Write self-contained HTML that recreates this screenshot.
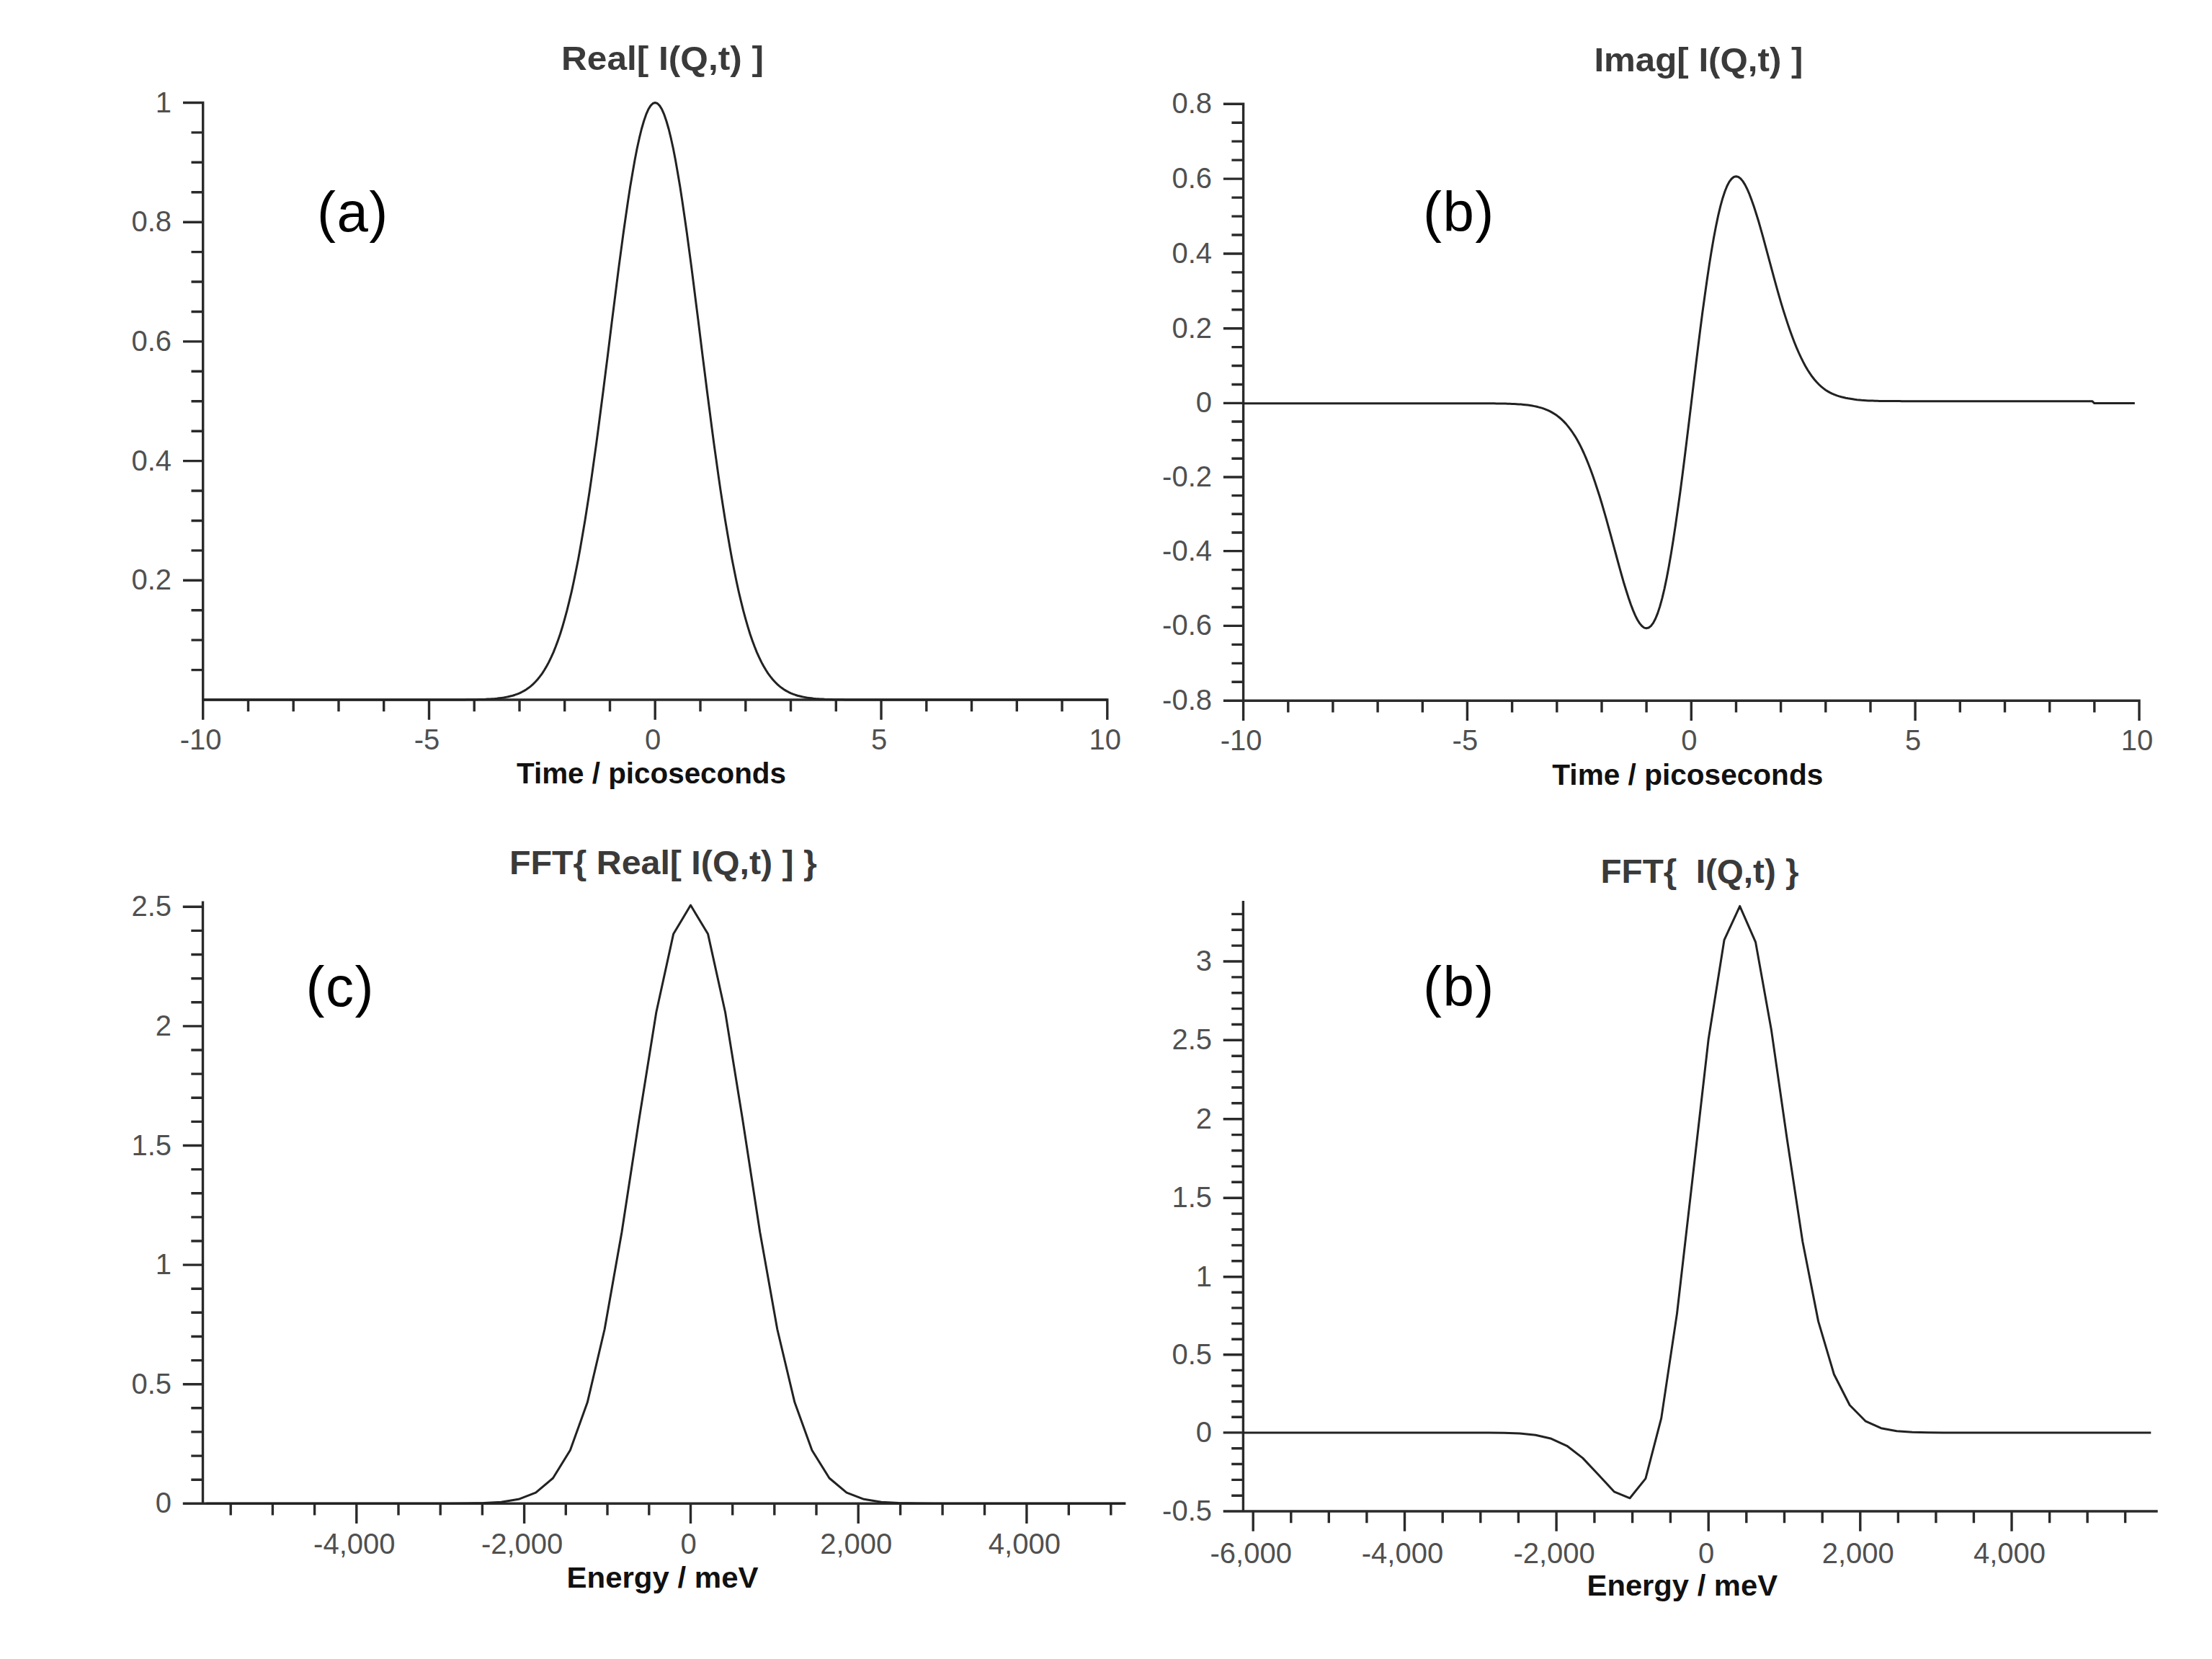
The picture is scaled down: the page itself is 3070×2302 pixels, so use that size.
<!DOCTYPE html>
<html><head><meta charset="utf-8"><title>I(Q,t) plots</title>
<style>
html,body{margin:0;padding:0;background:#fff;}
svg{display:block;}
text{font-family:"Liberation Sans",sans-serif;}
.tk{font-size:40px;fill:#505050;}
.ti{font-size:47px;font-weight:bold;fill:#3a3a3a;white-space:pre;}
.xl{font-size:40px;font-weight:bold;fill:#111;}
.tg{font-size:78px;fill:#000;letter-spacing:1.5px;}
</style></head><body>
<svg width="3070" height="2302" viewBox="0 0 3070 2302">
<rect width="3070" height="2302" fill="#fff"/>
<path d="M281.7 142.5V996M281.7 971H1536.8M255.7 805.3H281.7M255.7 639.6H281.7M255.7 473.9H281.7M255.7 308.2H281.7M255.7 142.5H281.7M267.2 929.6H281.7M267.2 888.1H281.7M267.2 846.7H281.7M267.2 763.9H281.7M267.2 722.5H281.7M267.2 681H281.7M267.2 598.2H281.7M267.2 556.8H281.7M267.2 515.3H281.7M267.2 432.5H281.7M267.2 391H281.7M267.2 349.6H281.7M267.2 266.8H281.7M267.2 225.3H281.7M267.2 183.9H281.7M281.7 971V997M595.5 971V997M909.2 971V997M1223 971V997M1536.8 971V997M344.5 971V985.5M407.2 971V985.5M470 971V985.5M532.7 971V985.5M658.2 971V985.5M721 971V985.5M783.7 971V985.5M846.5 971V985.5M972 971V985.5M1034.8 971V985.5M1097.5 971V985.5M1160.3 971V985.5M1285.8 971V985.5M1348.5 971V985.5M1411.3 971V985.5M1474 971V985.5" stroke="#2a2a2a" stroke-width="3.4" fill="none" stroke-linecap="square"/>
<text x="238" y="155.5" text-anchor="end" class="tk">1</text>
<text x="238" y="321.2" text-anchor="end" class="tk">0.8</text>
<text x="238" y="486.9" text-anchor="end" class="tk">0.6</text>
<text x="238" y="652.6" text-anchor="end" class="tk">0.4</text>
<text x="238" y="818.3" text-anchor="end" class="tk">0.2</text>
<text x="278.7" y="1039.5" text-anchor="middle" class="tk">-10</text>
<text x="592.5" y="1039.5" text-anchor="middle" class="tk">-5</text>
<text x="906.2" y="1039.5" text-anchor="middle" class="tk">0</text>
<text x="1220" y="1039.5" text-anchor="middle" class="tk">5</text>
<text x="1533.8" y="1039.5" text-anchor="middle" class="tk">10</text>
<path d="M281.7 971 L284.8 971 L288 971 L291.1 971 L294.3 971 L297.4 971 L300.5 971 L303.7 971 L306.8 971 L309.9 971 L313.1 971 L316.2 971 L319.4 971 L322.5 971 L325.6 971 L328.8 971 L331.9 971 L335 971 L338.2 971 L341.3 971 L344.5 971 L347.6 971 L350.7 971 L353.9 971 L357 971 L360.1 971 L363.3 971 L366.4 971 L369.6 971 L372.7 971 L375.8 971 L379 971 L382.1 971 L385.2 971 L388.4 971 L391.5 971 L394.7 971 L397.8 971 L400.9 971 L404.1 971 L407.2 971 L410.3 971 L413.5 971 L416.6 971 L419.8 971 L422.9 971 L426 971 L429.2 971 L432.3 971 L435.4 971 L438.6 971 L441.7 971 L444.9 971 L448 971 L451.1 971 L454.3 971 L457.4 971 L460.6 971 L463.7 971 L466.8 971 L470 971 L473.1 971 L476.2 971 L479.4 971 L482.5 971 L485.7 971 L488.8 971 L491.9 971 L495.1 971 L498.2 971 L501.3 971 L504.5 971 L507.6 971 L510.8 971 L513.9 971 L517 971 L520.2 971 L523.3 971 L526.4 971 L529.6 971 L532.7 971 L535.9 971 L539 971 L542.1 971 L545.3 971 L548.4 971 L551.5 971 L554.7 971 L557.8 971 L561 971 L564.1 971 L567.2 971 L570.4 971 L573.5 971 L576.6 971 L579.8 971 L582.9 971 L586.1 971 L589.2 971 L592.3 971 L595.5 971 L598.6 971 L601.8 971 L604.9 971 L608 971 L611.2 971 L614.3 971 L617.4 971 L620.6 971 L623.7 971 L626.9 971 L630 971 L633.1 970.9 L636.3 970.9 L639.4 970.9 L642.5 970.9 L645.7 970.9 L648.8 970.8 L652 970.8 L655.1 970.8 L658.2 970.7 L661.4 970.7 L664.5 970.6 L667.6 970.5 L670.8 970.4 L673.9 970.3 L677.1 970.1 L680.2 969.9 L683.3 969.7 L686.5 969.5 L689.6 969.2 L692.7 968.8 L695.9 968.4 L699 968 L702.2 967.4 L705.3 966.8 L708.4 966 L711.6 965.2 L714.7 964.2 L717.8 963.1 L721 961.8 L724.1 960.3 L727.3 958.6 L730.4 956.7 L733.5 954.6 L736.7 952.1 L739.8 949.4 L742.9 946.3 L746.1 942.8 L749.2 938.9 L752.4 934.6 L755.5 929.8 L758.6 924.5 L761.8 918.6 L764.9 912.2 L768.1 905.1 L771.2 897.3 L774.3 888.9 L777.5 879.7 L780.6 869.7 L783.7 858.9 L786.9 847.2 L790 834.7 L793.2 821.3 L796.3 807 L799.4 791.8 L802.6 775.7 L805.7 758.6 L808.8 740.6 L812 721.8 L815.1 702 L818.3 681.4 L821.4 660.1 L824.5 637.9 L827.7 615.1 L830.8 591.7 L833.9 567.7 L837.1 543.3 L840.2 518.6 L843.4 493.6 L846.5 468.5 L849.6 443.4 L852.8 418.4 L855.9 393.7 L859 369.4 L862.2 345.6 L865.3 322.5 L868.5 300.3 L871.6 279 L874.7 258.8 L877.9 239.9 L881 222.3 L884.1 206.2 L887.3 191.7 L890.4 179 L893.6 168 L896.7 158.9 L899.8 151.8 L903 146.6 L906.1 143.5 L909.2 142.5 L912.4 143.5 L915.5 146.6 L918.7 151.8 L921.8 158.9 L924.9 168 L928.1 179 L931.2 191.7 L934.4 206.2 L937.5 222.3 L940.6 239.9 L943.8 258.8 L946.9 279 L950 300.3 L953.2 322.5 L956.3 345.6 L959.5 369.4 L962.6 393.7 L965.7 418.4 L968.9 443.4 L972 468.5 L975.1 493.6 L978.3 518.6 L981.4 543.3 L984.6 567.7 L987.7 591.7 L990.8 615.1 L994 637.9 L997.1 660.1 L1000.2 681.4 L1003.4 702 L1006.5 721.8 L1009.7 740.6 L1012.8 758.6 L1015.9 775.7 L1019.1 791.8 L1022.2 807 L1025.3 821.3 L1028.5 834.7 L1031.6 847.2 L1034.8 858.9 L1037.9 869.7 L1041 879.7 L1044.2 888.9 L1047.3 897.3 L1050.4 905.1 L1053.6 912.2 L1056.7 918.6 L1059.9 924.5 L1063 929.8 L1066.1 934.6 L1069.3 938.9 L1072.4 942.8 L1075.6 946.3 L1078.7 949.4 L1081.8 952.1 L1085 954.6 L1088.1 956.7 L1091.2 958.6 L1094.4 960.3 L1097.5 961.8 L1100.7 963.1 L1103.8 964.2 L1106.9 965.2 L1110.1 966 L1113.2 966.8 L1116.3 967.4 L1119.5 968 L1122.6 968.4 L1125.8 968.8 L1128.9 969.2 L1132 969.5 L1135.2 969.7 L1138.3 969.9 L1141.4 970.1 L1144.6 970.3 L1147.7 970.4 L1150.9 970.5 L1154 970.6 L1157.1 970.7 L1160.3 970.7 L1163.4 970.8 L1166.5 970.8 L1169.7 970.8 L1172.8 970.9 L1176 970.9 L1179.1 970.9 L1182.2 970.9 L1185.4 970.9 L1188.5 971 L1191.6 971 L1194.8 971 L1197.9 971 L1201.1 971 L1204.2 971 L1207.3 971 L1210.5 971 L1213.6 971 L1216.7 971 L1219.9 971 L1223 971 L1226.2 971 L1229.3 971 L1232.4 971 L1235.6 971 L1238.7 971 L1241.9 971 L1245 971 L1248.1 971 L1251.3 971 L1254.4 971 L1257.5 971 L1260.7 971 L1263.8 971 L1267 971 L1270.1 971 L1273.2 971 L1276.4 971 L1279.5 971 L1282.6 971 L1285.8 971 L1288.9 971 L1292.1 971 L1295.2 971 L1298.3 971 L1301.5 971 L1304.6 971 L1307.7 971 L1310.9 971 L1314 971 L1317.2 971 L1320.3 971 L1323.4 971 L1326.6 971 L1329.7 971 L1332.8 971 L1336 971 L1339.1 971 L1342.3 971 L1345.4 971 L1348.5 971 L1351.7 971 L1354.8 971 L1357.9 971 L1361.1 971 L1364.2 971 L1367.4 971 L1370.5 971 L1373.6 971 L1376.8 971 L1379.9 971 L1383.1 971 L1386.2 971 L1389.3 971 L1392.5 971 L1395.6 971 L1398.7 971 L1401.9 971 L1405 971 L1408.2 971 L1411.3 971 L1414.4 971 L1417.6 971 L1420.7 971 L1423.8 971 L1427 971 L1430.1 971 L1433.3 971 L1436.4 971 L1439.5 971 L1442.7 971 L1445.8 971 L1448.9 971 L1452.1 971 L1455.2 971 L1458.4 971 L1461.5 971 L1464.6 971 L1467.8 971 L1470.9 971 L1474 971 L1477.2 971 L1480.3 971 L1483.5 971 L1486.6 971 L1489.7 971 L1492.9 971 L1496 971 L1499.1 971 L1502.3 971 L1505.4 971 L1508.6 971 L1511.7 971 L1514.8 971 L1518 971 L1521.1 971 L1524.2 971 L1527.4 971 L1530.5 971 L1533.7 971 L1536.8 971" stroke="#222" stroke-width="3.0" fill="none" stroke-linejoin="round"/>
<text x="919.5" y="97" text-anchor="middle" class="ti" textLength="281" lengthAdjust="spacingAndGlyphs">Real[ I(Q,t) ]</text>
<text x="904" y="1086.5" text-anchor="middle" class="xl" textLength="374" lengthAdjust="spacingAndGlyphs">Time / picoseconds</text>
<text x="440" y="320.7" class="tg">(a)</text>
<path d="M1725.6 144.2V997.3M1699.6 972.3H2969M1699.6 868.4H1725.6M1699.6 764.6H1725.6M1699.6 662H1725.6M1699.6 559.4H1725.6M1699.6 455.7H1725.6M1699.6 352H1725.6M1699.6 248.1H1725.6M1699.6 144.2H1725.6M1711.1 946.3H1725.6M1711.1 920.4H1725.6M1711.1 894.4H1725.6M1711.1 842.5H1725.6M1711.1 816.5H1725.6M1711.1 790.6H1725.6M1711.1 739H1725.6M1711.1 713.3H1725.6M1711.1 687.6H1725.6M1711.1 636.3H1725.6M1711.1 610.7H1725.6M1711.1 585H1725.6M1711.1 533.5H1725.6M1711.1 507.5H1725.6M1711.1 481.6H1725.6M1711.1 429.8H1725.6M1711.1 403.9H1725.6M1711.1 377.9H1725.6M1711.1 326H1725.6M1711.1 300.1H1725.6M1711.1 274.1H1725.6M1711.1 222.1H1725.6M1711.1 196.1H1725.6M1711.1 170.2H1725.6M1725.6 972.3V998.3M2036.4 972.3V998.3M2347.3 972.3V998.3M2658.1 972.3V998.3M2969 972.3V998.3M1787.8 972.3V986.8M1849.9 972.3V986.8M1912.1 972.3V986.8M1974.3 972.3V986.8M2098.6 972.3V986.8M2160.8 972.3V986.8M2223 972.3V986.8M2285.1 972.3V986.8M2409.5 972.3V986.8M2471.6 972.3V986.8M2533.8 972.3V986.8M2596 972.3V986.8M2720.3 972.3V986.8M2782.5 972.3V986.8M2844.7 972.3V986.8M2906.8 972.3V986.8" stroke="#2a2a2a" stroke-width="3.4" fill="none" stroke-linecap="square"/>
<text x="1682" y="985.3" text-anchor="end" class="tk">-0.8</text>
<text x="1682" y="881.4" text-anchor="end" class="tk">-0.6</text>
<text x="1682" y="777.6" text-anchor="end" class="tk">-0.4</text>
<text x="1682" y="675" text-anchor="end" class="tk">-0.2</text>
<text x="1682" y="572.4" text-anchor="end" class="tk">0</text>
<text x="1682" y="468.7" text-anchor="end" class="tk">0.2</text>
<text x="1682" y="365" text-anchor="end" class="tk">0.4</text>
<text x="1682" y="261.1" text-anchor="end" class="tk">0.6</text>
<text x="1682" y="157.2" text-anchor="end" class="tk">0.8</text>
<text x="1722.6" y="1040.8" text-anchor="middle" class="tk">-10</text>
<text x="2033.4" y="1040.8" text-anchor="middle" class="tk">-5</text>
<text x="2344.3" y="1040.8" text-anchor="middle" class="tk">0</text>
<text x="2655.1" y="1040.8" text-anchor="middle" class="tk">5</text>
<text x="2966" y="1040.8" text-anchor="middle" class="tk">10</text>
<path d="M1725.6 559.7 L1728.7 559.7 L1731.8 559.7 L1734.9 559.7 L1738 559.7 L1741.1 559.7 L1744.3 559.7 L1747.4 559.7 L1750.5 559.7 L1753.6 559.7 L1756.7 559.7 L1759.8 559.7 L1762.9 559.7 L1766 559.7 L1769.1 559.7 L1772.2 559.7 L1775.3 559.7 L1778.4 559.7 L1781.6 559.7 L1784.7 559.7 L1787.8 559.7 L1790.9 559.7 L1794 559.7 L1797.1 559.7 L1800.2 559.7 L1803.3 559.7 L1806.4 559.7 L1809.5 559.7 L1812.6 559.7 L1815.7 559.7 L1818.9 559.7 L1822 559.7 L1825.1 559.7 L1828.2 559.7 L1831.3 559.7 L1834.4 559.7 L1837.5 559.7 L1840.6 559.7 L1843.7 559.7 L1846.8 559.7 L1849.9 559.7 L1853 559.7 L1856.2 559.7 L1859.3 559.7 L1862.4 559.7 L1865.5 559.7 L1868.6 559.7 L1871.7 559.7 L1874.8 559.7 L1877.9 559.7 L1881 559.7 L1884.1 559.7 L1887.2 559.7 L1890.4 559.7 L1893.5 559.7 L1896.6 559.7 L1899.7 559.7 L1902.8 559.7 L1905.9 559.7 L1909 559.7 L1912.1 559.7 L1915.2 559.7 L1918.3 559.7 L1921.4 559.7 L1924.5 559.7 L1927.7 559.7 L1930.8 559.7 L1933.9 559.7 L1937 559.7 L1940.1 559.7 L1943.2 559.7 L1946.3 559.7 L1949.4 559.7 L1952.5 559.7 L1955.6 559.7 L1958.7 559.7 L1961.8 559.7 L1965 559.7 L1968.1 559.7 L1971.2 559.7 L1974.3 559.7 L1977.4 559.7 L1980.5 559.7 L1983.6 559.7 L1986.7 559.7 L1989.8 559.7 L1992.9 559.7 L1996 559.7 L1999.1 559.7 L2002.3 559.7 L2005.4 559.7 L2008.5 559.7 L2011.6 559.7 L2014.7 559.7 L2017.8 559.7 L2020.9 559.7 L2024 559.7 L2027.1 559.7 L2030.2 559.7 L2033.3 559.7 L2036.4 559.7 L2039.6 559.7 L2042.7 559.7 L2045.8 559.7 L2048.9 559.7 L2052 559.7 L2055.1 559.7 L2058.2 559.7 L2061.3 559.8 L2064.4 559.8 L2067.5 559.8 L2070.6 559.8 L2073.8 559.8 L2076.9 559.9 L2080 559.9 L2083.1 560 L2086.2 560 L2089.3 560.1 L2092.4 560.2 L2095.5 560.3 L2098.6 560.4 L2101.7 560.5 L2104.8 560.7 L2107.9 560.9 L2111.1 561.1 L2114.2 561.4 L2117.3 561.7 L2120.4 562.1 L2123.5 562.5 L2126.6 563 L2129.7 563.6 L2132.8 564.3 L2135.9 565.1 L2139 565.9 L2142.1 566.9 L2145.2 568.1 L2148.4 569.4 L2151.5 570.9 L2154.6 572.6 L2157.7 574.5 L2160.8 576.6 L2163.9 579 L2167 581.7 L2170.1 584.6 L2173.2 587.9 L2176.3 591.6 L2179.4 595.6 L2182.5 600 L2185.7 604.8 L2188.8 610.1 L2191.9 615.7 L2195 621.9 L2198.1 628.5 L2201.2 635.6 L2204.3 643.2 L2207.4 651.2 L2210.5 659.8 L2213.6 668.7 L2216.7 678.2 L2219.9 688 L2223 698.3 L2226.1 708.8 L2229.2 719.7 L2232.3 730.8 L2235.4 742.1 L2238.5 753.6 L2241.6 765 L2244.7 776.5 L2247.8 787.9 L2250.9 799 L2254 809.8 L2257.2 820 L2260.3 829.7 L2263.4 838.7 L2266.5 846.9 L2269.6 854.1 L2272.7 860.2 L2275.8 865.1 L2278.9 868.8 L2282 871.1 L2285.1 871.8 L2288.2 871 L2291.3 868.6 L2294.5 864.4 L2297.6 858.5 L2300.7 850.9 L2303.8 841.4 L2306.9 830.1 L2310 817.1 L2313.1 802.4 L2316.2 786 L2319.3 768.1 L2322.4 748.8 L2325.5 728.3 L2328.6 706.5 L2331.8 683.7 L2334.9 660 L2338 635.5 L2341.1 610.4 L2344.2 585 L2347.3 559.4 L2350.4 533.5 L2353.5 507.8 L2356.6 482.5 L2359.7 457.8 L2362.8 433.8 L2366 410.7 L2369.1 388.7 L2372.2 367.9 L2375.3 348.5 L2378.4 330.6 L2381.5 314.2 L2384.6 299.4 L2387.7 286.4 L2390.8 275.2 L2393.9 265.7 L2397 258 L2400.1 252.1 L2403.3 248 L2406.4 245.5 L2409.5 244.7 L2412.6 245.5 L2415.7 247.7 L2418.8 251.4 L2421.9 256.4 L2425 262.5 L2428.1 269.7 L2431.2 277.9 L2434.3 286.8 L2437.4 296.5 L2440.6 306.8 L2443.7 317.6 L2446.8 328.7 L2449.9 340.1 L2453 351.6 L2456.1 363.2 L2459.2 374.7 L2462.3 386.1 L2465.4 397.4 L2468.5 408.4 L2471.6 419.1 L2474.7 429.4 L2477.9 439.4 L2481 448.9 L2484.1 458 L2487.2 466.6 L2490.3 474.7 L2493.4 482.4 L2496.5 489.5 L2499.6 496.2 L2502.7 502.4 L2505.8 508.2 L2508.9 513.5 L2512.1 518.4 L2515.2 522.8 L2518.3 526.7 L2521.4 530.3 L2524.5 533.5 L2527.6 536.4 L2530.7 538.9 L2533.8 541.2 L2536.9 543.1 L2540 544.9 L2543.1 546.4 L2546.2 547.7 L2549.4 548.9 L2552.5 549.9 L2555.6 550.8 L2558.7 551.5 L2561.8 552.2 L2564.9 552.8 L2568 553.3 L2571.1 553.8 L2574.2 554.3 L2577.3 554.7 L2580.4 555 L2583.5 555.3 L2586.7 555.5 L2589.8 555.7 L2592.9 555.9 L2596 556 L2599.1 556.1 L2602.2 556.2 L2605.3 556.3 L2608.4 556.4 L2611.5 556.4 L2614.6 556.5 L2617.7 556.5 L2620.8 556.6 L2624 556.6 L2627.1 556.6 L2630.2 556.6 L2633.3 556.6 L2636.4 556.6 L2639.5 556.7 L2642.6 556.7 L2645.7 556.7 L2648.8 556.7 L2651.9 556.7 L2655 556.7 L2658.1 556.7 L2661.3 556.7 L2664.4 556.7 L2667.5 556.7 L2670.6 556.7 L2673.7 556.7 L2676.8 556.7 L2679.9 556.7 L2683 556.7 L2686.1 556.7 L2689.2 556.7 L2692.3 556.7 L2695.5 556.7 L2698.6 556.7 L2701.7 556.7 L2704.8 556.7 L2707.9 556.7 L2711 556.7 L2714.1 556.7 L2717.2 556.7 L2720.3 556.7 L2723.4 556.7 L2726.5 556.7 L2729.6 556.7 L2732.8 556.7 L2735.9 556.7 L2739 556.7 L2742.1 556.7 L2745.2 556.7 L2748.3 556.7 L2751.4 556.7 L2754.5 556.7 L2757.6 556.7 L2760.7 556.7 L2763.8 556.7 L2766.9 556.7 L2770.1 556.7 L2773.2 556.7 L2776.3 556.7 L2779.4 556.7 L2782.5 556.7 L2785.6 556.7 L2788.7 556.7 L2791.8 556.7 L2794.9 556.7 L2798 556.7 L2801.1 556.7 L2804.2 556.7 L2807.4 556.7 L2810.5 556.7 L2813.6 556.7 L2816.7 556.7 L2819.8 556.7 L2822.9 556.7 L2826 556.7 L2829.1 556.7 L2832.2 556.7 L2835.3 556.7 L2838.4 556.7 L2841.6 556.7 L2844.7 556.7 L2847.8 556.7 L2850.9 556.7 L2854 556.7 L2857.1 556.7 L2860.2 556.7 L2863.3 556.7 L2866.4 556.7 L2869.5 556.7 L2872.6 556.7 L2875.7 556.7 L2878.9 556.7 L2882 556.7 L2885.1 556.7 L2888.2 556.7 L2891.3 556.7 L2894.4 556.7 L2897.5 556.7 L2900.6 556.7 L2903.7 556.7 L2906.8 559.6 L2909.9 559.6 L2913 559.6 L2916.2 559.6 L2919.3 559.6 L2922.4 559.6 L2925.5 559.6 L2928.6 559.6 L2931.7 559.6 L2934.8 559.6 L2937.9 559.6 L2941 559.6 L2944.1 559.6 L2947.2 559.6 L2950.3 559.6 L2953.5 559.6 L2956.6 559.6 L2959.7 559.6 L2962.8 559.6" stroke="#222" stroke-width="3.0" fill="none" stroke-linejoin="round"/>
<text x="2357.4" y="99.2" text-anchor="middle" class="ti" textLength="290" lengthAdjust="spacingAndGlyphs">Imag[ I(Q,t) ]</text>
<text x="2342.3" y="1088.7" text-anchor="middle" class="xl" textLength="376" lengthAdjust="spacingAndGlyphs">Time / picoseconds</text>
<text x="1975" y="320.7" class="tg">(b)</text>
<path d="M281.5 1252.1V2086.3M255.5 2086.3H1560.7M255.5 2086.3H281.5M255.5 1920.7H281.5M255.5 1755.1H281.5M255.5 1589.5H281.5M255.5 1423.9H281.5M255.5 1258.3H281.5M267 2053.2H281.5M267 2020.1H281.5M267 1986.9H281.5M267 1953.8H281.5M267 1887.6H281.5M267 1854.5H281.5M267 1821.3H281.5M267 1788.2H281.5M267 1722H281.5M267 1688.9H281.5M267 1655.7H281.5M267 1622.6H281.5M267 1556.4H281.5M267 1523.3H281.5M267 1490.1H281.5M267 1457H281.5M267 1390.8H281.5M267 1357.7H281.5M267 1324.5H281.5M267 1291.4H281.5M494.8 2086.3V2112.3M727.6 2086.3V2112.3M958.5 2086.3V2112.3M1191.2 2086.3V2112.3M1424.9 2086.3V2112.3M320.2 2086.3V2100.8M378.4 2086.3V2100.8M436.6 2086.3V2100.8M553 2086.3V2100.8M611.2 2086.3V2100.8M669.4 2086.3V2100.8M785.3 2086.3V2100.8M843 2086.3V2100.8M900.8 2086.3V2100.8M1016.7 2086.3V2100.8M1074.8 2086.3V2100.8M1133 2086.3V2100.8M1249.6 2086.3V2100.8M1308.1 2086.3V2100.8M1366.5 2086.3V2100.8M1483.3 2086.3V2100.8M1541.8 2086.3V2100.8" stroke="#2a2a2a" stroke-width="3.4" fill="none" stroke-linecap="square"/>
<text x="238" y="2099.3" text-anchor="end" class="tk">0</text>
<text x="238" y="1933.7" text-anchor="end" class="tk">0.5</text>
<text x="238" y="1768.1" text-anchor="end" class="tk">1</text>
<text x="238" y="1602.5" text-anchor="end" class="tk">1.5</text>
<text x="238" y="1436.9" text-anchor="end" class="tk">2</text>
<text x="238" y="1271.3" text-anchor="end" class="tk">2.5</text>
<text x="491.8" y="2155.8" text-anchor="middle" class="tk">-4,000</text>
<text x="724.6" y="2155.8" text-anchor="middle" class="tk">-2,000</text>
<text x="955.5" y="2155.8" text-anchor="middle" class="tk">0</text>
<text x="1188.2" y="2155.8" text-anchor="middle" class="tk">2,000</text>
<text x="1421.9" y="2155.8" text-anchor="middle" class="tk">4,000</text>
<path d="M286.5 2086.3 L310.5 2086.3 L334.6 2086.3 L358.7 2086.3 L382.7 2086.3 L406.8 2086.3 L430.9 2086.3 L454.9 2086.3 L479 2086.3 L503.1 2086.3 L527.2 2086.3 L551.2 2086.3 L575.3 2086.3 L599.4 2086.3 L623.4 2086.2 L647.5 2086.1 L671.6 2085.6 L695.6 2084.2 L719.7 2080.3 L743.6 2071.1 L767.5 2051 L791.4 2012.3 L815.3 1945.8 L839.1 1844.5 L863 1709.4 L886.9 1553.8 L910.8 1404.8 L934.6 1296.1 L958.5 1256.1 L982.6 1296.1 L1006.6 1404.8 L1030.7 1553.8 L1054.7 1709.4 L1078.8 1844.5 L1102.9 1945.8 L1126.9 2012.3 L1151 2051 L1175 2071.1 L1199.1 2080.3 L1223.3 2084.2 L1247.4 2085.6 L1271.6 2086.1 L1295.8 2086.2 L1319.9 2086.3 L1344.1 2086.3 L1368.3 2086.3 L1392.4 2086.3 L1416.6 2086.3 L1440.7 2086.3 L1464.9 2086.3 L1489.1 2086.3 L1513.2 2086.3 L1537.4 2086.3 L1561.6 2086.3" stroke="#222" stroke-width="3.0" fill="none" stroke-linejoin="round"/>
<text x="920.4" y="1212.8" text-anchor="middle" class="ti" textLength="427" lengthAdjust="spacingAndGlyphs">FFT{ Real[ I(Q,t) ] }</text>
<text x="919.5" y="2202.6" text-anchor="middle" class="xl" textLength="266" lengthAdjust="spacingAndGlyphs">Energy / meV</text>
<text x="424.5" y="1395.5" class="tg">(c)</text>
<path d="M1725.4 1251.7V2097M1699.4 2097H2993M1699.4 2097H1725.4M1699.4 1987.9H1725.4M1699.4 1879.8H1725.4M1699.4 1771.7H1725.4M1699.4 1662.2H1725.4M1699.4 1552.7H1725.4M1699.4 1443.3H1725.4M1699.4 1334H1725.4M1710.9 2075.2H1725.4M1710.9 2053.4H1725.4M1710.9 2031.5H1725.4M1710.9 2009.7H1725.4M1710.9 1966.3H1725.4M1710.9 1944.7H1725.4M1710.9 1923H1725.4M1710.9 1901.4H1725.4M1710.9 1858.2H1725.4M1710.9 1836.6H1725.4M1710.9 1814.9H1725.4M1710.9 1793.3H1725.4M1710.9 1749.8H1725.4M1710.9 1727.9H1725.4M1710.9 1706H1725.4M1710.9 1684.1H1725.4M1710.9 1640.3H1725.4M1710.9 1618.4H1725.4M1710.9 1596.5H1725.4M1710.9 1574.6H1725.4M1710.9 1530.8H1725.4M1710.9 1509H1725.4M1710.9 1487.1H1725.4M1710.9 1465.2H1725.4M1710.9 1421.5H1725.4M1710.9 1399.6H1725.4M1710.9 1377.7H1725.4M1710.9 1355.9H1725.4M1710.9 1312.1H1725.4M1710.9 1290.3H1725.4M1710.9 1268.4H1725.4M1739.2 2097V2123M1949.5 2097V2123M2160.1 2097V2123M2371.2 2097V2123M2581.8 2097V2123M2792 2097V2123M1791.8 2097V2111.5M1844.3 2097V2111.5M1896.9 2097V2111.5M2002.2 2097V2111.5M2054.8 2097V2111.5M2107.4 2097V2111.5M2212.9 2097V2111.5M2265.6 2097V2111.5M2318.4 2097V2111.5M2423.8 2097V2111.5M2476.5 2097V2111.5M2529.2 2097V2111.5M2634.4 2097V2111.5M2686.9 2097V2111.5M2739.4 2097V2111.5M2844.6 2097V2111.5M2897.1 2097V2111.5M2949.6 2097V2111.5" stroke="#2a2a2a" stroke-width="3.4" fill="none" stroke-linecap="square"/>
<text x="1682" y="2110" text-anchor="end" class="tk">-0.5</text>
<text x="1682" y="2000.9" text-anchor="end" class="tk">0</text>
<text x="1682" y="1892.8" text-anchor="end" class="tk">0.5</text>
<text x="1682" y="1784.7" text-anchor="end" class="tk">1</text>
<text x="1682" y="1675.2" text-anchor="end" class="tk">1.5</text>
<text x="1682" y="1565.7" text-anchor="end" class="tk">2</text>
<text x="1682" y="1456.3" text-anchor="end" class="tk">2.5</text>
<text x="1682" y="1347" text-anchor="end" class="tk">3</text>
<text x="1736.2" y="2168.5" text-anchor="middle" class="tk">-6,000</text>
<text x="1946.5" y="2168.5" text-anchor="middle" class="tk">-4,000</text>
<text x="2157.1" y="2168.5" text-anchor="middle" class="tk">-2,000</text>
<text x="2368.2" y="2168.5" text-anchor="middle" class="tk">0</text>
<text x="2578.8" y="2168.5" text-anchor="middle" class="tk">2,000</text>
<text x="2789" y="2168.5" text-anchor="middle" class="tk">4,000</text>
<path d="M1725.1 1987.9 L1739.6 1987.9 L1761.3 1987.9 L1783 1987.9 L1804.8 1987.9 L1826.5 1987.9 L1848.3 1987.9 L1870 1987.9 L1891.8 1987.9 L1913.5 1987.9 L1935.2 1987.9 L1957 1987.9 L1978.8 1987.9 L2000.5 1987.9 L2022.3 1987.9 L2044.1 1987.9 L2065.9 1988 L2087.6 1988.3 L2109.4 1989.1 L2131.2 1991.3 L2153 1996.3 L2174.8 2006.3 L2196.6 2023.1 L2218.4 2046.3 L2240.2 2069.8 L2262.1 2078.8 L2283.9 2051.6 L2305.7 1967.9 L2327.5 1822.6 L2349.4 1632.3 L2371.2 1441.9 L2393 1304.4 L2414.7 1257.4 L2436.5 1307.1 L2458.3 1428.4 L2480.1 1579.7 L2501.8 1722.7 L2523.6 1833.4 L2545.4 1907 L2567.2 1949.8 L2588.9 1971.8 L2610.7 1981.7 L2632.4 1985.8 L2654.1 1987.2 L2675.9 1987.7 L2697.6 1987.9 L2719.3 1987.9 L2741.1 1987.9 L2762.8 1987.9 L2784.5 1987.9 L2806.3 1987.9 L2828 1987.9 L2849.7 1987.9 L2871.4 1987.9 L2893.2 1987.9 L2914.9 1987.9 L2936.6 1987.9 L2958.4 1987.9 L2980.1 1987.9 L2985.3 1987.9" stroke="#222" stroke-width="3.0" fill="none" stroke-linejoin="round"/>
<text x="2359" y="1224.8" text-anchor="middle" class="ti" textLength="275" lengthAdjust="spacingAndGlyphs">FFT{  I(Q,t) }</text>
<text x="2334.8" y="2213.5" text-anchor="middle" class="xl" textLength="264.5" lengthAdjust="spacingAndGlyphs">Energy / meV</text>
<text x="1975" y="1395.5" class="tg">(b)</text>
</svg></body></html>
